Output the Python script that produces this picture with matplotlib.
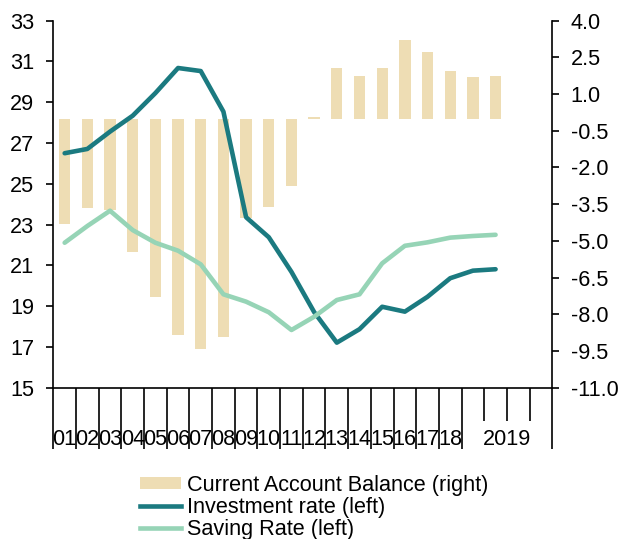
import matplotlib
matplotlib.use("Agg")
import matplotlib.pyplot as plt
from matplotlib.patches import Patch
from matplotlib.lines import Line2D

plt.rcParams["font.family"] = ["Liberation Sans", "DejaVu Sans"]
plt.rcParams["font.size"] = 15.6

# data
tick_labels = ["01", "02", "03", "04", "05", "06", "07", "08", "09", "10",
               "11", "12", "13", "14", "15", "16", "17", "18"]
last_label = "2019"
current_account = [-4.32, -3.67, -3.75, -5.46, -7.28, -8.86, -9.43, -8.94,
                   -4.07, -3.62, -2.74, 0.08, 2.07, 1.74, 2.07, 3.21, 2.71,
                   1.93, 1.69, 1.74]
investment_rate = [26.50, 26.71, 27.56, 28.34, 29.45, 30.68, 30.53, 28.54,
                   23.36, 22.38, 20.68, 18.71, 17.21, 17.87, 18.97, 18.73,
                   19.46, 20.37, 20.74, 20.81]
saving_rate = [22.11, 22.93, 23.68, 22.73, 22.11, 21.72, 21.05, 19.58, 19.22,
               18.70, 17.83, 18.48, 19.30, 19.58, 21.10, 21.96, 22.13, 22.36,
               22.44, 22.50]
n_slots = 22

bar_color = "#EEDDB4"
inv_color = "#1B7A80"
sav_color = "#96D4B6"
lw = 3.3

fig = plt.figure(figsize=(6.34, 5.39), dpi=100)
ax = fig.add_axes([0.0841, 0.2807, 0.8711 - 0.0841, 0.9616 - 0.2807])
ax2 = ax.twinx()

xs = [i + 0.5 for i in range(len(current_account))]
ax2.bar(xs, current_account, width=0.5, color=bar_color, edgecolor="none")
ax.plot(xs, investment_rate, color=inv_color, lw=lw, solid_capstyle="round")
ax.plot(xs, saving_rate, color=sav_color, lw=lw, solid_capstyle="round")

# lines above the bars
ax.set_zorder(ax2.get_zorder() + 1)
ax.patch.set_visible(False)

ax.set_xlim(0, n_slots)
ax.set_ylim(15, 33)
ax.set_yticks(range(15, 34, 2))
ax2.set_ylim(-11, 4)
ax2.set_yticks([-11 + 1.5 * i for i in range(11)])
ax2.set_yticklabels([f"{-11 + 1.5 * i:.1f}" for i in range(11)])

for a in (ax, ax2):
    a.spines["top"].set_visible(False)
    for s in ("left", "right", "bottom"):
        a.spines[s].set_linewidth(1.2)
ax.spines["right"].set_visible(False)
ax2.spines["left"].set_visible(False)
ax2.spines["bottom"].set_visible(False)

ax.tick_params(axis="y", direction="out", length=4.8, width=1.2, pad=9)
ax2.tick_params(axis="y", direction="out", length=4.8, width=1.2, pad=8.5)

# category axis: long separators, short ones inside the last group
ax.set_xticks(list(range(0, len(tick_labels) + 1)) + [n_slots])
ax.set_xticks(list(range(len(tick_labels) + 1, n_slots)), minor=True)
ax.tick_params(axis="x", which="major", length=44, width=1.2, labelbottom=False)
ax.tick_params(axis="x", which="minor", length=24, width=1.2, labelbottom=False)

tr = ax.get_xaxis_transform()
for i, lab in enumerate(tick_labels):
    ax.text(i + 0.5, -0.142, lab, transform=tr, ha="center", va="center")
ax.text((len(tick_labels) + n_slots) / 2, -0.142, last_label, transform=tr,
        ha="center", va="center")

handles = [
    Patch(facecolor=bar_color, edgecolor="none"),
    Line2D([0], [0], color=inv_color, lw=lw),
    Line2D([0], [0], color=sav_color, lw=lw),
]
labels = ["Current Account Balance (right)", "Investment rate (left)",
          "Saving Rate (left)"]
fig.legend(handles, labels, loc="upper left", bbox_to_anchor=(0.221, 0.119),
           frameon=False, borderpad=0, borderaxespad=0, handlelength=1.9,
           handleheight=0.5, handletextpad=0.25, labelspacing=0.05)

fig.savefig("out.png", dpi=100)
